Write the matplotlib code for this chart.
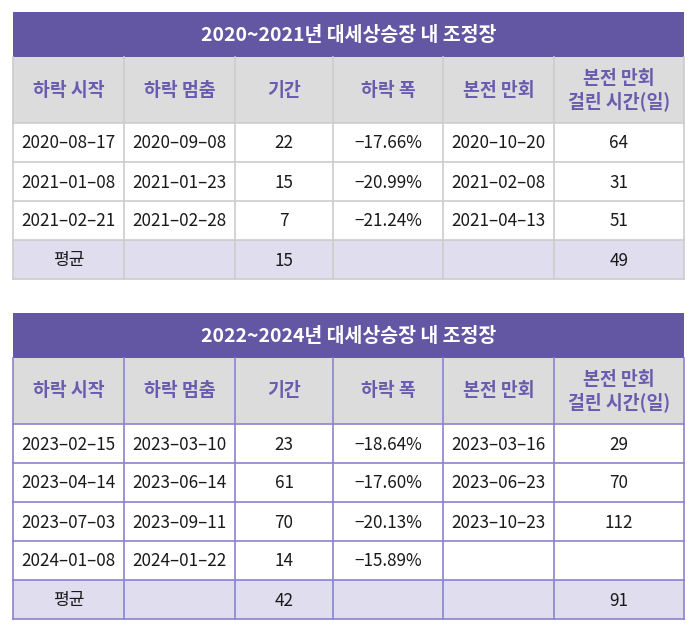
import matplotlib
matplotlib.use("Agg")
import matplotlib.pyplot as plt
from matplotlib.patches import Rectangle

plt.rcParams['font.family'] = ['Noto Sans CJK KR', 'DejaVu Sans']

# table contents
headers = ["하락 시작", "하락 멈춤", "기간", "하락 폭", "본전 만회", "본전 만회\n걸린 시간(일)"]

title1 = "2020~2021년 대세상승장 내 조정장"
rows1 = [
    ["2020–08–17", "2020–09–08", "22", "−17.66%", "2020–10–20", "64"],
    ["2021–01–08", "2021–01–23", "15", "−20.99%", "2021–02–08", "31"],
    ["2021–02–21", "2021–02–28", "7", "−21.24%", "2021–04–13", "51"],
]
avg1 = ["평균", "", "15", "", "", "49"]

title2 = "2022~2024년 대세상승장 내 조정장"
rows2 = [
    ["2023–02–15", "2023–03–10", "23", "−18.64%", "2023–03–16", "29"],
    ["2023–04–14", "2023–06–14", "61", "−17.60%", "2023–06–23", "70"],
    ["2023–07–03", "2023–09–11", "70", "−20.13%", "2023–10–23", "112"],
    ["2024–01–08", "2024–01–22", "14", "−15.89%", "", ""],
]
avg2 = ["평균", "", "42", "", "", "91"]

# layout in pixels
col_x = [13, 124, 235, 333, 443, 554, 684]
TITLE_H = 45
HEAD_H = 66
ROW_H = 39

PURPLE = "#6356a3"
HEAD_BG = "#dcdcdc"
HEAD_TXT = "#6a5bb0"
AVG_BG = "#e0ddef"


def draw_table(ax, top, title, rows, avg, line_color):
    # title band
    ax.add_patch(Rectangle((col_x[0], top), col_x[-1] - col_x[0], TITLE_H,
                           facecolor=PURPLE, edgecolor="none"))
    ax.text((col_x[0] + col_x[-1]) / 2, top + TITLE_H / 2 + 1, title,
            ha="center", va="center", color="white", fontsize=14, fontweight="bold")
    y = top + TITLE_H
    # header
    ax.add_patch(Rectangle((col_x[0], y), col_x[-1] - col_x[0], HEAD_H,
                           facecolor=HEAD_BG, edgecolor="none"))
    for i, h in enumerate(headers):
        ax.text((col_x[i] + col_x[i + 1]) / 2, y + HEAD_H / 2, h, ha="center", va="center",
                color=HEAD_TXT, fontsize=13.2, fontweight="bold", linespacing=1.2)
    y_lines = [y]
    y += HEAD_H
    y_lines.append(y)
    all_rows = rows + [avg]
    for r, row in enumerate(all_rows):
        if r == len(all_rows) - 1:
            ax.add_patch(Rectangle((col_x[0], y), col_x[-1] - col_x[0], ROW_H,
                                   facecolor=AVG_BG, edgecolor="none"))
        for i, v in enumerate(row):
            ax.text((col_x[i] + col_x[i + 1]) / 2, y + ROW_H / 2 + 1, v, ha="center",
                    va="center", color="#1a1a1a", fontsize=12.3)
        y += ROW_H
        y_lines.append(y)
    # grid
    for yy in y_lines[1:]:
        ax.plot([col_x[0], col_x[-1]], [yy, yy], color=line_color, lw=1.2)
    for xx in col_x:
        ax.plot([xx, xx], [top + TITLE_H, y], color=line_color, lw=1.2)


fig = plt.figure(figsize=(7, 6.41), dpi=100)
ax = fig.add_axes([0, 0, 1, 1])
ax.set_xlim(0, 700)
ax.set_ylim(641, 0)
ax.axis("off")

draw_table(ax, 12, title1, rows1, avg1, "#cccccc")
draw_table(ax, 313, title2, rows2, avg2, "#8b82d0")

fig.savefig("out.png", dpi=100)
